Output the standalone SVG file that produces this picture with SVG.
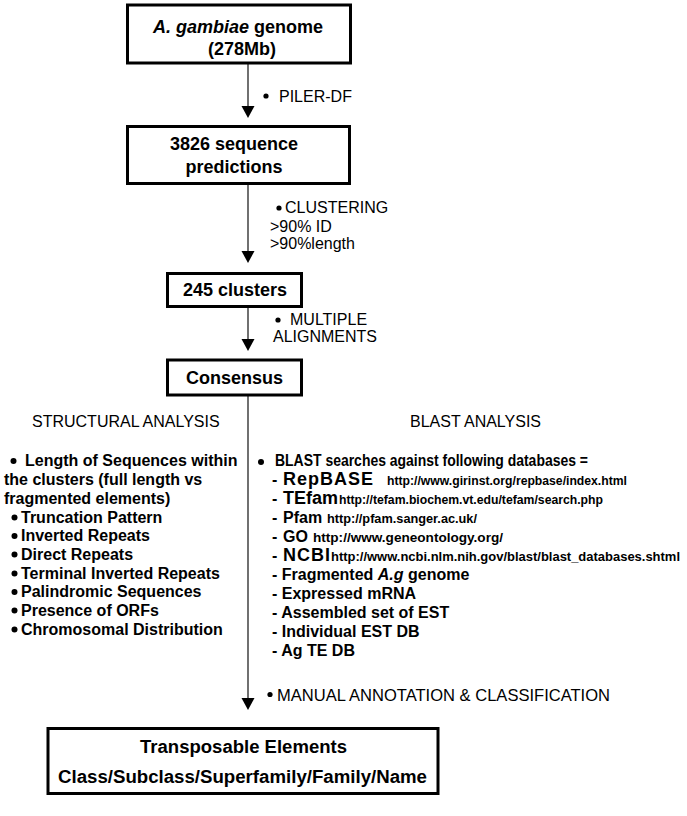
<svg xmlns="http://www.w3.org/2000/svg" width="687" height="816" viewBox="0 0 687 816">
<style>
text{font-family:"Liberation Sans",Arial,sans-serif;fill:#000}
.box{fill:#fff;stroke:#000;stroke-width:3}
.nt{font-size:18px;font-weight:bold;text-anchor:middle}
.lbl{font-size:16px}
.b{font-size:16px;font-weight:bold}
.db{font-size:18px;font-weight:bold}
.url{font-size:12px;font-weight:bold}
.line{stroke:#111;stroke-width:1.2;fill:none}
.dot{fill:#000}
</style>
<rect width="687" height="816" fill="#fff"/>

<g id="connectors">
<line class="line" x1="248" y1="64" x2="248" y2="106"/>
<path d="M241.5,106 L254.5,106 L248,118 Z" fill="#000"/>
<line class="line" x1="248" y1="185" x2="248" y2="251"/>
<path d="M241.5,251 L254.5,251 L248,263 Z" fill="#000"/>
<line class="line" x1="248" y1="308" x2="248" y2="339"/>
<path d="M241.5,339 L254.5,339 L248,351 Z" fill="#000"/>
<line class="line" x1="248" y1="396" x2="248" y2="698"/>
<path d="M241.5,698 L254.5,698 L248,710 Z" fill="#000"/>
</g>

<g id="labels">
<circle class="dot" cx="266" cy="96" r="2.6"/>
<text class="lbl" x="279" y="102">PILER-DF</text>
<circle class="dot" cx="279" cy="208" r="2.6"/>
<text class="lbl" x="285" y="213">CLUSTERING</text>
<text class="lbl" x="270" y="232">&gt;90% ID</text>
<text class="lbl" x="270" y="249">&gt;90%length</text>
<circle class="dot" cx="278" cy="320" r="2.6"/>
<text class="lbl" x="290" y="325">MULTIPLE</text>
<text class="lbl" x="273" y="342">ALIGNMENTS</text>
<circle class="dot" cx="270" cy="694.5" r="2.6"/>
<text class="lbl" x="277" y="701" textLength="333" lengthAdjust="spacingAndGlyphs" style="font-size:17px">MANUAL ANNOTATION &amp; CLASSIFICATION</text>
</g>

<g id="genome">
<rect class="box" x="127.5" y="5" width="223" height="58"/>
<text class="nt" x="238" y="33"><tspan font-style="italic">A. gambiae</tspan> genome</text>
<text class="nt" x="242" y="55">(278Mb)</text>
</g>

<g id="predictions">
<rect class="box" x="127.5" y="126.5" width="222" height="57"/>
<text class="nt" x="234" y="150">3826 sequence</text>
<text class="nt" x="234" y="173">predictions</text>
</g>

<g id="clusters">
<rect class="box" x="167.5" y="273.5" width="134" height="33"/>
<text class="nt" x="235" y="296">245 clusters</text>
</g>

<g id="consensus">
<rect class="box" x="167.5" y="360" width="134" height="35"/>
<text class="nt" x="234.5" y="384">Consensus</text>
</g>

<g id="structural">
<text class="lbl" x="32" y="427">STRUCTURAL ANALYSIS</text>
<circle class="dot" cx="13.5" cy="461" r="3"/>
<text class="b" x="25" y="466">Length of Sequences within</text>
<text class="b" x="4" y="485">the clusters (full length vs</text>
<text class="b" x="4" y="503.5">fragmented elements)</text>
<circle class="dot" cx="14.5" cy="517.5" r="3"/>
<text class="b" x="21" y="522.5">Truncation Pattern</text>
<circle class="dot" cx="14.5" cy="536" r="3"/>
<text class="b" x="21" y="541">Inverted Repeats</text>
<circle class="dot" cx="14.5" cy="554.5" r="3"/>
<text class="b" x="21" y="559.5">Direct Repeats</text>
<circle class="dot" cx="14.5" cy="573.5" r="3"/>
<text class="b" x="21" y="578.5">Terminal Inverted Repeats</text>
<circle class="dot" cx="14.5" cy="592" r="3"/>
<text class="b" x="21" y="597">Palindromic Sequences</text>
<circle class="dot" cx="14.5" cy="610.5" r="3"/>
<text class="b" x="21" y="615.5">Presence of ORFs</text>
<circle class="dot" cx="14.5" cy="629.5" r="3"/>
<text class="b" x="21" y="634.5">Chromosomal Distribution</text>
</g>

<g id="blast">
<text class="lbl" x="410" y="427">BLAST ANALYSIS</text>
<circle class="dot" cx="261" cy="462" r="3"/>
<text class="b" x="275" y="466" textLength="313" lengthAdjust="spacingAndGlyphs">BLAST searches against following databases =</text>
<text class="b" x="272" y="485">-</text>
<text class="db" x="283" y="485" style="letter-spacing:1px">RepBASE</text>
<text class="url" x="387" y="485" textLength="240" lengthAdjust="spacingAndGlyphs">http://www.girinst.org/repbase/index.html</text>
<text class="b" x="272" y="504">-</text>
<text class="db" x="283" y="504">TEfam</text>
<text class="url" x="339" y="504" textLength="264" lengthAdjust="spacingAndGlyphs">http://tefam.biochem.vt.edu/tefam/search.php</text>
<text class="b" x="272" y="523">-</text>
<text class="b" x="283" y="523">Pfam</text>
<text class="url" x="327" y="523" textLength="150" lengthAdjust="spacingAndGlyphs">http://pfam.sanger.ac.uk/</text>
<text class="b" x="272" y="542">-</text>
<text class="b" x="283" y="542">GO</text>
<text class="url" x="313" y="542" textLength="190" lengthAdjust="spacingAndGlyphs">http://www.geneontology.org/</text>
<text class="b" x="272" y="561">-</text>
<text class="db" x="283" y="561" style="letter-spacing:1px">NCBI</text>
<text class="url" x="331" y="561" textLength="349" lengthAdjust="spacingAndGlyphs">http://www.ncbi.nlm.nih.gov/blast/blast_databases.shtml</text>
<text class="b" x="272" y="580">- Fragmented <tspan font-style="italic">A.g</tspan> genome</text>
<text class="b" x="272" y="599">- Expressed mRNA</text>
<text class="b" x="272" y="618">- Assembled set of EST</text>
<text class="b" x="272" y="637">- Individual EST DB</text>
<text class="b" x="272" y="656">- Ag TE DB</text>
</g>

<g id="transposable">
<rect class="box" x="48" y="728.5" width="390" height="65"/>
<text class="nt" x="243.5" y="753" textLength="207" lengthAdjust="spacingAndGlyphs">Transposable Elements</text>
<text class="nt" x="242.5" y="783" textLength="369" lengthAdjust="spacingAndGlyphs">Class/Subclass/Superfamily/Family/Name</text>
</g>
</svg>
